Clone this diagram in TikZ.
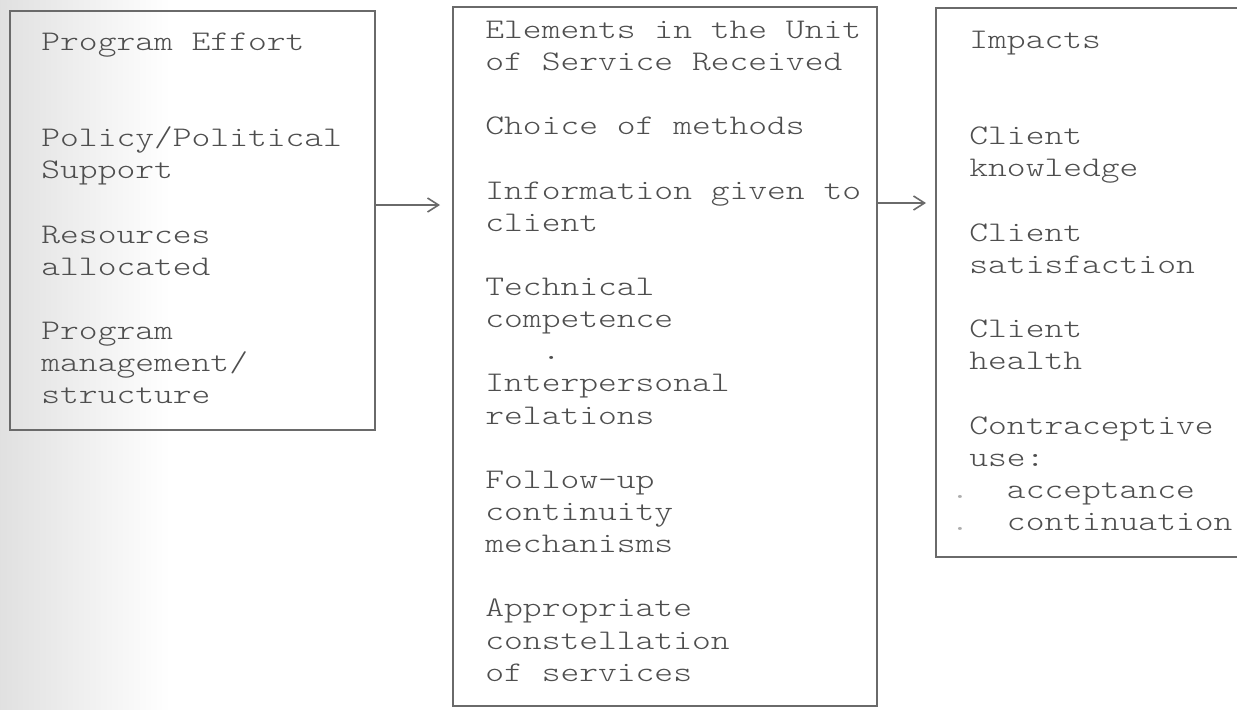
\documentclass[tikz,border=0pt]{standalone}
\usepackage{fontspec}
\setmainfont{Liberation Mono}
% light typewriter face, widened to the Courier-like pitch of the listing
\newfontfamily\typer{lmmonolt10-regular.otf}[FakeStretch=1.26]
\usetikzlibrary{arrows.meta}

\definecolor{ink}{HTML}{4E4E4E}
\definecolor{frame}{HTML}{6A6A6A}

% one empty typewriter line / two empty lines between entries
\newcommand\blank{\\[16.07pt]}
\newcommand\blanktwo{\\[32.14pt]}
\newcommand\firstline{\rule{0pt}{13pt}}
\newcommand\itemdot{\llap{\textcolor{frame!55}{.}}}

\tikzset{
  panel/.style={draw=frame, line width=1pt, inner sep=0pt},
  listing/.style={anchor=north west, align=left, inner sep=0pt, text=ink,
    font=\typer\fontsize{14.2pt}{16.07pt}\selectfont},
  link/.style={draw=frame, line width=1pt,
    -{Straight Barb[length=5.5pt, width=7pt, line width=0.8pt]}}
}

\begin{document}
\begin{tikzpicture}[x=0.5pt, y=-0.5pt]
  \useasboundingbox (0,0) rectangle (1237,709);
  \clip (0,0) rectangle (1237,709);
  \fill[white] (0,0) rectangle (1237,709);
  \shade[left color=black!12, right color=white] (0,0) rectangle (170,709);

  % the three panels
  \node[panel, minimum width=182.5pt, minimum height=209.5pt] (effort) at (192.5,220.5) {};
  \node[panel, minimum width=212pt, minimum height=349.5pt] (unit) at (665,356.5) {};
  \node[panel, minimum width=154.5pt, minimum height=274.5pt] (impacts) at (1090.5,282.5) {};

  % panel contents
  \node[listing] (effortText) at (41,24) {\firstline Program Effort\blanktwo
    Policy/Political\\Support\blank
    Resources\\allocated\blank
    Program\\management/\\structure};

  \node[listing] (unitText) at (485,12) {\firstline Elements in the Unit\\of Service Received\blank
    Choice of methods\blank
    Information given to\\client\blank
    Technical\\competence\\\ \ \ .\\Interpersonal\\relations\blank
    Follow-up\\continuity\\mechanisms\blank
    Appropriate\\constellation\\of services};

  \node[listing] (impactsText) at (969,22) {\firstline Impacts\blanktwo
    Client\\knowledge\blank
    Client\\satisfaction\blank
    Client\\health\blank
    Contraceptive\\use:\\\itemdot\ \ acceptance\\\itemdot\ \ continuation};

  % connectors
  \coordinate (tipA) at (440,205);
  \coordinate (tipB) at (926,203);
  \draw[link] (effort.east |- tipA) -- (tipA);
  \draw[link] (unit.east |- tipB) -- (tipB);
\end{tikzpicture}
\end{document}
